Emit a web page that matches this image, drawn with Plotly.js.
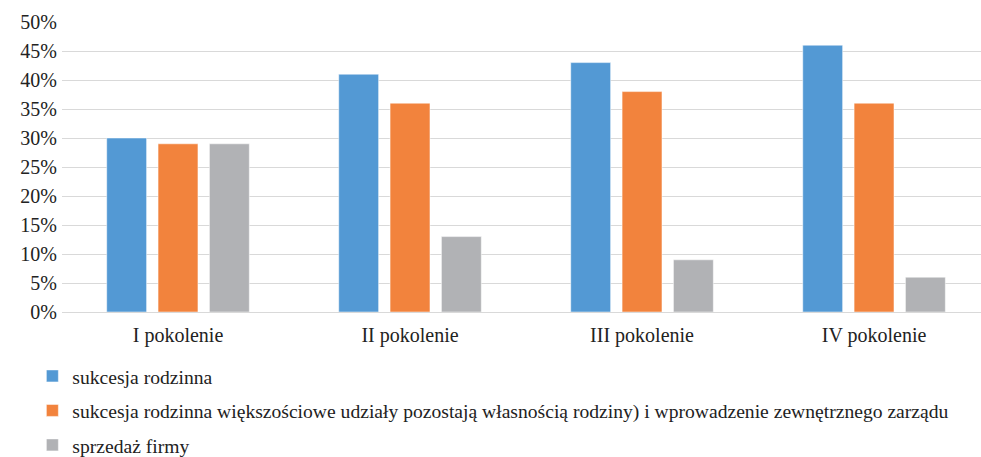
<!DOCTYPE html>
<html>
<head>
<meta charset="utf-8">
<script src="https://cdn.plot.ly/plotly-3.0.1.min.js"></script>
<style>html,body{margin:0;padding:0;background:#fff;}#chart{width:981px;height:457px;}</style>
</head>
<body>
<div id="chart"></div>
<script>
const categories = ["I pokolenie", "II pokolenie", "III pokolenie", "IV pokolenie"];
const seriesNames = [
  "sukcesja rodzinna",
  "sukcesja rodzinna większościowe udziały pozostają własnością rodziny) i wprowadzenie zewnętrznego zarządu",
  "sprzedaż firmy"
];
const sukcesja = [0.30, 0.41, 0.43, 0.46];
const sukcesjaZarzad = [0.29, 0.36, 0.38, 0.36];
const sprzedaz = [0.29, 0.13, 0.09, 0.06];
const colors = ["#5399d4", "#f2833d", "#b1b2b5"];

const values = [sukcesja, sukcesjaZarzad, sprzedaz];
const traces = values.map((v, i) => ({
  type: "bar",
  x: categories,
  y: v,
  name: seriesNames[i],
  legendgroup: "g" + i,
  marker: {color: colors[i], line: {color: "#ffffff", width: 0.5}},
  hoverinfo: "x+y"
}));

const FONT = "Liberation Serif, Times New Roman, Times, serif";

const layout = {
  width: 981,
  height: 457,
  margin: {l: 62, r: 0, t: 22, b: 145, autoexpand: false},
  paper_bgcolor: "#ffffff",
  plot_bgcolor: "#ffffff",
  font: {family: FONT, size: 20, color: "#222222"},
  barmode: "group",
  bargap: 0.336,
  bargroupgap: 0.223,
  showlegend: true,
  legend: {
    orientation: "v",
    xref: "container", yref: "container",
    x: 0.033, xanchor: "left",
    y: 0.2195, yanchor: "top",
    font: {family: FONT, size: 19.6, color: "#222222"},
    tracegroupgap: 6,
    itemwidth: 30
  },
  xaxis: {
    type: "category",
    range: [-0.5, 3.461],
    showgrid: false,
    showline: true,
    linecolor: "#d9d9d9",
    linewidth: 1,
    ticks: "",
    ticklabelstandoff: 5,
    tickfont: {family: FONT, size: 20}
  },
  yaxis: {
    range: [0, 0.5],
    dtick: 0.05,
    tickformat: ".0%",
    showgrid: true,
    gridcolor: "#d9d9d9",
    gridwidth: 1,
    zeroline: false,
    showline: false,
    ticks: "",
    ticklabelstandoff: 4,
    tickfont: {family: FONT, size: 20}
  }
};

Plotly.newPlot("chart", traces, layout, {displayModeBar: false, staticPlot: true});
</script>
</body>
</html>
